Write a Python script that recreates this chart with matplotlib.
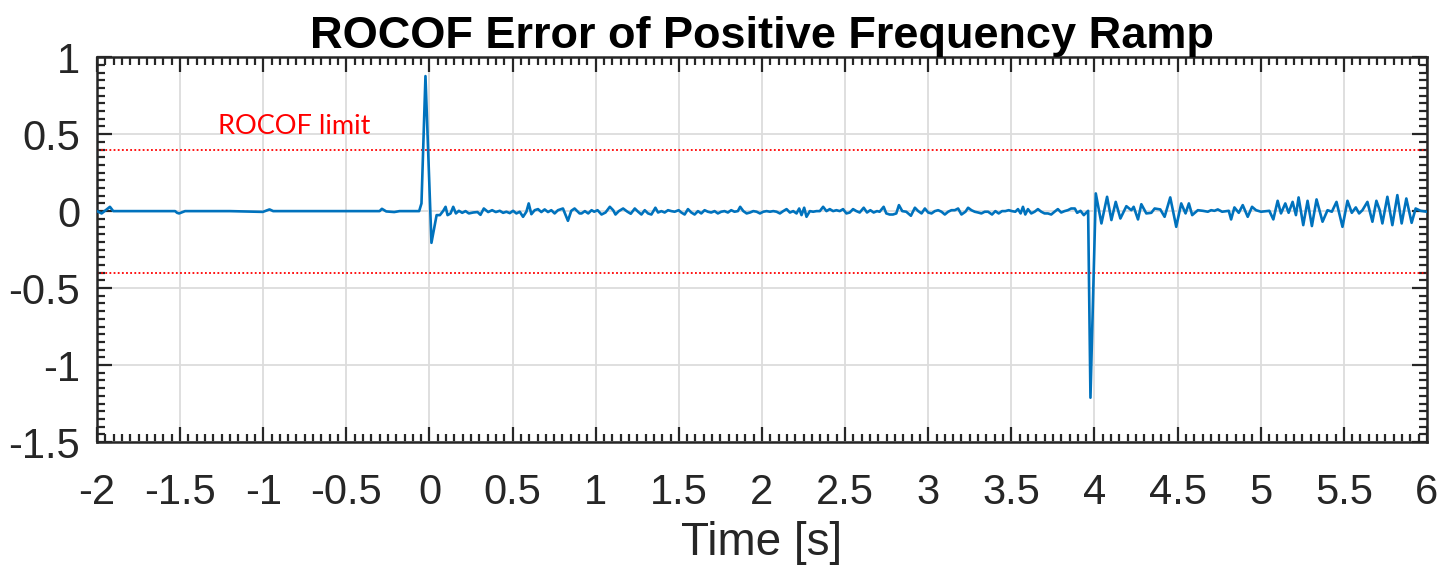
import matplotlib.pyplot as plt
from matplotlib.ticker import MultipleLocator

# Data (time in s, ROCOF error)
time_s = [
    -2.0, -1.972, -1.96, -1.922, -1.902, -1.86, -1.7, -1.53, -1.518, -1.506, -1.47,
    -1.2, -1.002, -0.962, -0.94, -0.6, -0.3, -0.286, -0.26, -0.212, -0.18, -0.062,
    -0.048, -0.024, 0.012,
    0.043, 0.063, 0.083, 0.097, 0.109, 0.127, 0.143, 0.159, 0.177, 0.197,
    0.217, 0.237, 0.263, 0.289, 0.307, 0.327, 0.353, 0.377, 0.399, 0.423,
    0.443, 0.463, 0.483, 0.503, 0.523, 0.543, 0.563, 0.583, 0.597, 0.613,
    0.633, 0.653, 0.673, 0.693, 0.713, 0.733, 0.753, 0.773, 0.803, 0.833,
    0.853, 0.873, 0.903, 0.915, 0.935, 0.955, 0.975, 0.991, 1.011, 1.035,
    1.059, 1.085, 1.105, 1.119, 1.139, 1.165, 1.191, 1.211, 1.235, 1.255,
    1.275, 1.295, 1.315, 1.335, 1.359, 1.375, 1.395, 1.415, 1.435, 1.455,
    1.475, 1.499, 1.515, 1.535, 1.555, 1.575, 1.595, 1.615, 1.635, 1.655,
    1.675, 1.695, 1.715, 1.735, 1.755, 1.775, 1.795, 1.815, 1.835, 1.855,
    1.869, 1.888, 1.908, 1.928, 1.948, 1.968, 1.988, 2.008, 2.028, 2.048,
    2.068, 2.088, 2.108, 2.128, 2.148, 2.168, 2.188, 2.208, 2.224, 2.238,
    2.254, 2.268, 2.288, 2.308, 2.328, 2.348, 2.368, 2.388, 2.408, 2.428,
    2.448, 2.468, 2.488, 2.508, 2.528, 2.548, 2.568, 2.588, 2.612, 2.632,
    2.652, 2.672, 2.692, 2.708, 2.732, 2.748, 2.768, 2.788, 2.808, 2.824,
    2.844, 2.868, 2.88, 2.896, 2.92, 2.94, 2.96, 2.98, 3.0, 3.02,
    3.04, 3.06, 3.08, 3.1, 3.12, 3.14, 3.16, 3.18, 3.2, 3.224,
    3.24, 3.26, 3.28, 3.3, 3.32, 3.34, 3.36, 3.384, 3.404, 3.424,
    3.444, 3.464, 3.484, 3.504, 3.524, 3.54, 3.556, 3.57, 3.584, 3.6,
    3.62, 3.64, 3.66, 3.68, 3.7, 3.72, 3.74, 3.76, 3.78, 3.8,
    3.82, 3.84, 3.86, 3.882, 3.896, 3.916, 3.936, 3.962, 3.976, 4.008,
    4.042, 4.076, 4.102, 4.128, 4.156, 4.192, 4.222, 4.236, 4.262, 4.282,
    4.312, 4.342, 4.362, 4.396, 4.422, 4.456, 4.492, 4.522, 4.548, 4.568,
    4.588, 4.622, 4.652, 4.682, 4.702, 4.722, 4.742, 4.768, 4.808, 4.822,
    4.842, 4.868, 4.892, 4.922, 4.948, 4.972, 5.002, 5.052, 5.076, 5.102,
    5.122, 5.148, 5.168, 5.192, 5.212, 5.228, 5.256, 5.282, 5.308, 5.336,
    5.372, 5.402, 5.428, 5.456, 5.492, 5.522, 5.548, 5.572, 5.592, 5.612,
    5.642, 5.672, 5.696, 5.716, 5.732, 5.762, 5.792, 5.822, 5.848, 5.876,
    5.908, 5.932, 5.962, 6.0,
]
rocof_err = [
    0.0, -0.015, -0.005, 0.028, 0.0, 0.0, 0.0, 0.0, -0.011, -0.015, 0.0,
    0.0, -0.005, 0.011, 0.0, 0.0, 0.0, 0.015, -0.002, -0.006, 0.0, 0.0,
    0.05, 0.877, -0.206,
    -0.026, -0.026, 0.002, 0.028, -0.026, -0.015, 0.028, -0.015, 0.002, -0.011,
    0.0, -0.015, -0.009, -0.006, -0.024, 0.017, -0.006, 0.006, -0.006, 0.002,
    -0.011, -0.004, -0.013, 0.002, -0.015, -0.004, -0.037, -0.004, 0.05, -0.02,
    0.006, 0.013, -0.006, 0.011, -0.006, 0.006, -0.015, 0.006, 0.017, -0.063,
    0.002, 0.017, -0.015, -0.015, 0.0, -0.015, 0.006, -0.004, 0.006, -0.022,
    -0.009, 0.028, 0.006, -0.022, 0.0, 0.017, -0.004, -0.017, 0.017, -0.004,
    -0.022, 0.006, -0.015, -0.022, 0.022, -0.009, 0.0, -0.009, 0.006, 0.0,
    -0.004, 0.006, -0.009, -0.022, 0.013, -0.009, -0.022, 0.0, -0.015, 0.006,
    -0.004, -0.009, 0.0, -0.015, -0.004, 0.0, -0.009, 0.006, -0.004, 0.0,
    0.028, 0.0, -0.015, -0.009, 0.0, -0.004, -0.015, -0.004, 0.0, -0.004,
    0.0, -0.004, -0.015, 0.0, 0.013, -0.009, 0.0, -0.015, 0.017, -0.026,
    0.022, -0.037, 0.0, -0.004, 0.0, 0.0, 0.028, 0.0, 0.013, 0.0,
    0.006, 0.0, 0.013, -0.015, -0.009, 0.013, 0.0, -0.009, 0.022, -0.009,
    0.006, -0.009, 0.0, -0.004, 0.028, -0.015, -0.022, -0.022, -0.015, 0.039,
    0.0, -0.004, -0.015, -0.03, 0.022, 0.0, -0.015, 0.017, -0.009, -0.015,
    0.0, 0.006, -0.004, -0.022, -0.004, 0.006, 0.006, 0.017, -0.022, -0.004,
    0.022, 0.006, -0.004, -0.009, -0.015, -0.004, -0.004, -0.022, 0.0, -0.015,
    0.0, 0.0, 0.006, 0.0, -0.004, 0.013, -0.015, 0.028, -0.022, 0.013,
    -0.015, -0.004, 0.013, -0.004, -0.015, -0.015, -0.022, -0.004, 0.013, -0.009,
    0.0, 0.006, 0.017, 0.017, -0.011, 0.002, -0.026, 0.002, -1.212, 0.115,
    -0.08, 0.093, -0.058, 0.06, -0.048, 0.032, 0.006, 0.028, -0.054, 0.045,
    -0.015, -0.011, 0.017, 0.011, -0.037, 0.089, -0.102, 0.05, -0.015, 0.05,
    -0.026, 0.006, 0.002, -0.004, 0.006, 0.002, 0.011, -0.004, 0.002, -0.054,
    0.024, -0.011, 0.039, -0.037, 0.028, 0.006, -0.004, 0.002, -0.054, 0.067,
    -0.015, 0.05, -0.011, 0.06, -0.026, 0.089, -0.091, 0.067, -0.097, 0.076,
    -0.069, 0.006, -0.004, 0.06, -0.102, 0.067, -0.011, 0.024, -0.015, 0.006,
    0.06, -0.069, 0.067, 0.006, -0.08, 0.093, -0.091, 0.104, -0.08, 0.082,
    -0.076, 0.017, 0.002, -0.004,
]
rocof_limit = 0.4
x_ticks = [-2, -1.5, -1, -0.5, 0, 0.5, 1, 1.5, 2, 2.5, 3, 3.5, 4, 4.5, 5, 5.5, 6]
y_ticks = [-1.5, -1, -0.5, 0, 0.5, 1]

plt.rcParams['font.family'] = ['Liberation Sans', 'DejaVu Sans']

fig = plt.figure(figsize=(14.45, 5.66), dpi=100)
ax = fig.add_axes([0.0671, 0.219, 0.9204, 0.680])

ax.plot(time_s, rocof_err, color='#0072BD', linewidth=1.9, zorder=3)
ax.axhline(rocof_limit, color='red', linestyle=(0, (1, 1.3)), linewidth=1.3, zorder=2)
ax.axhline(-rocof_limit, color='red', linestyle=(0, (1, 1.3)), linewidth=1.3, zorder=2)
ax.text(-1.27, 0.55, 'ROCOF limit', color='red', fontsize=19.5,
        family=['Lato', 'DejaVu Sans'], va='center', ha='left')

ax.set_xlim(-2, 6)
ax.set_ylim(-1.5, 1)
ax.set_xticks(x_ticks)
ax.set_yticks(y_ticks)
ax.set_xticklabels(['%g' % v for v in x_ticks])
ax.set_yticklabels(['%g' % v for v in y_ticks])
ax.xaxis.set_minor_locator(MultipleLocator(0.05))
ax.yaxis.set_minor_locator(MultipleLocator(0.05))
ax.tick_params(which='both', direction='in', top=True, right=True,
               colors='#262626', labelsize=30, width=1.6)
ax.tick_params(which='major', length=11)
ax.tick_params(which='minor', length=6)
ax.tick_params(axis='x', which='major', pad=22)
ax.tick_params(axis='y', which='major', pad=12)
ax.grid(True, which='major', color='#dcdcdc', linewidth=1.3, zorder=0)
for s in ax.spines.values():
    s.set_linewidth(1.8)
    s.set_color('#262626')

ax.set_title('ROCOF Error of Positive Frequency Ramp', fontsize=32.5,
             fontweight='bold', pad=4)
ax.set_xlabel('Time [s]', fontsize=33, color='#262626', labelpad=6)

plt.savefig('out.png', dpi=100)
plt.close()
